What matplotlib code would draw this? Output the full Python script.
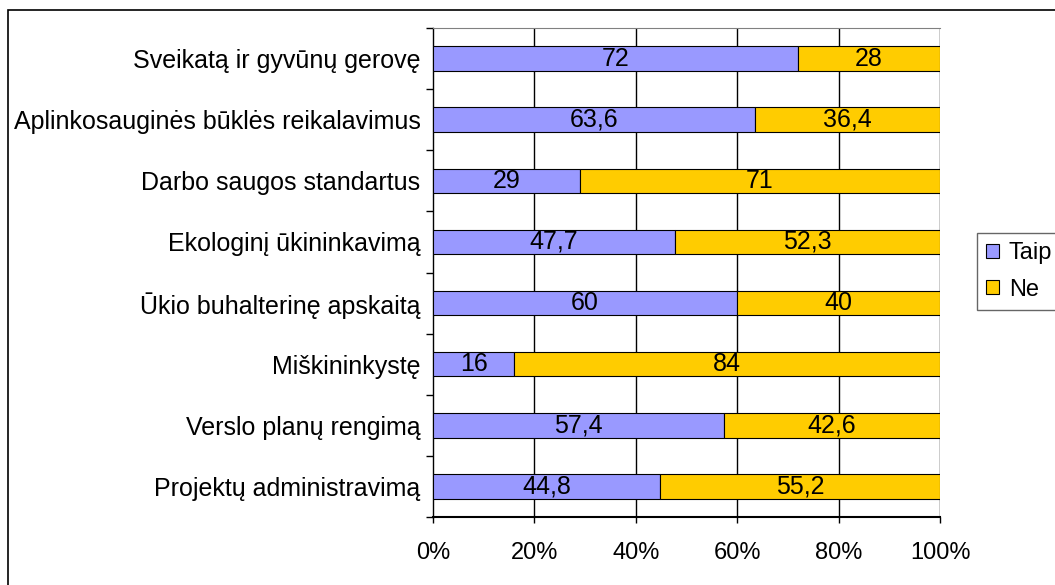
import matplotlib.pyplot as plt
import matplotlib.patches as patches
import numpy as np

# ========== DATA ==========
categories = ['Sveikatą ir gyvūnų gerovę', 'Aplinkosauginės būklės reikalavimus',
    'Darbo saugos standartus', 'Ekologinį ūkininkavimą', 'Ūkio buhalterinę apskaitą',
    'Miškininkystę', 'Verslo planų rengimą', 'Projektų administravimą']
taip = [72, 63.6, 29, 47.7, 60, 16, 57.4, 44.8]
ne = [28, 36.4, 71, 52.3, 40, 84, 42.6, 55.2]
series_names = ['Taip', 'Ne']
xticks = [0, 20, 40, 60, 80, 100]

# ========== CONFIG ==========
col_taip = '#9999FF'
col_ne = '#FFCC00'
fs = 18      # libellés catégories et valeurs
fs_small = 17  # axe x et légende
plt.rcParams['font.family'] = ['Liberation Sans', 'DejaVu Sans']

def fmt(v):
    s = f"{v:g}"
    return s.replace('.', ',')

fig = plt.figure(figsize=(10.55, 5.85), dpi=100)
W, H = 1055, 585
ax = fig.add_axes([433/W, 1 - 517/H, (940 - 433)/W, (517 - 28)/H])

n = len(categories)
y = np.arange(n)[::-1]  # premier en haut
ax.barh(y, taip, height=0.4, color=col_taip, edgecolor='black', linewidth=0.8,
    label=series_names[0], zorder=3)
ax.barh(y, ne, left=taip, height=0.4, color=col_ne, edgecolor='black', linewidth=0.8,
    label=series_names[1], zorder=3)

for yi, a, b in zip(y, taip, ne):
    ax.text(a / 2, yi, fmt(a), ha='center', va='center', fontsize=fs, zorder=4)
    ax.text(a + b / 2, yi, fmt(b), ha='center', va='center', fontsize=fs, zorder=4)

ax.set_xlim(0, 100)
ax.set_ylim(-0.5, n - 0.5)
ax.set_xticks(xticks)
ax.set_xticklabels([f"{t}%" for t in xticks], fontsize=fs_small)
ax.tick_params(axis='x', length=4, width=1, pad=14)

# ticks entre catégories, labels au centre
ax.set_yticks(np.arange(-0.5, n, 1.0))
ax.set_yticklabels([])
ax.set_yticks(y, minor=True)
ax.set_yticklabels(categories, minor=True, fontsize=fs)
ax.tick_params(axis='y', which='major', length=5, width=1)
ax.tick_params(axis='y', which='minor', length=0, pad=9)

for x in xticks[1:]:
    ax.axvline(x, color='black', linewidth=1, zorder=1)

ax.spines['right'].set_visible(False)
ax.spines['top'].set_color('#808080')
ax.spines['left'].set_linewidth(1)
ax.spines['bottom'].set_linewidth(1.5)

leg = ax.legend(loc='upper left', bbox_to_anchor=(977/W, 1 - 233/H), bbox_transform=fig.transFigure,
    fontsize=fs_small, frameon=True, fancybox=False, edgecolor='#404040', handlelength=0.55,
    handleheight=0.55, handletextpad=0.4, labelspacing=0.6, borderpad=0.4, borderaxespad=0)
leg.get_frame().set_linewidth(1)

# cadre extérieur
fig.patches.append(patches.Rectangle((8/W, -0.1), 1.2, (1 - 10/H) + 0.1,
    transform=fig.transFigure, fill=False, edgecolor='black', linewidth=1.2))

fig.savefig('out.png', dpi=100)
